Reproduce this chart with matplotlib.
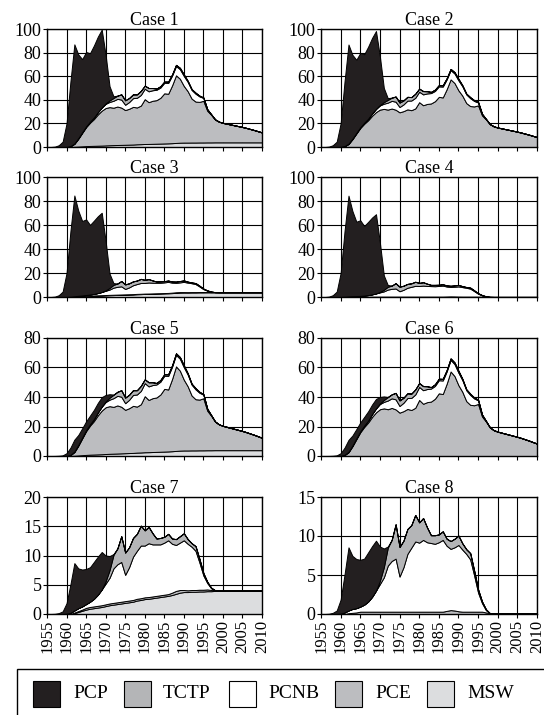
import numpy as np
import matplotlib
matplotlib.use("Agg")
import matplotlib.pyplot as plt
from matplotlib.patches import Rectangle

plt.rcParams["font.family"] = ["Liberation Serif", "DejaVu Serif"]

years = np.arange(1955, 2011)

# MSW contribution (used in odd-numbered cases)
msw = [0, 0, 0, 0, 0,
       0, 0, 0.15, 0.35, 0.55, 0.75, 0.9, 1.0, 1.1, 1.2,
       1.35, 1.5, 1.6, 1.7, 1.8, 1.9, 2.0, 2.1, 2.3, 2.4,
       2.55, 2.6, 2.7, 2.8, 2.9, 3.0, 3.1, 3.25, 3.45, 3.65,
       3.75, 3.75, 3.8, 3.8, 3.85, 3.85, 3.9, 3.9, 3.95, 3.95,
       3.95, 3.95, 3.95, 3.95, 3.95, 3.95, 3.95, 3.95, 3.95, 3.95,
       3.95]
no_msw = np.zeros(len(years))

# PCE, high scenario (cases 1, 2, 5, 6)
pce_high = [0, 0, 0, 0, 0,
            0.05, 0.6, 2.5, 6.6, 11.4, 16.1, 19.7, 22.7, 26.5, 29.6,
            31.7, 32.3, 31.7, 32.6, 31.6, 29.4, 30.4, 31.9, 31.2, 32.7,
            38.0, 35.4, 36.5, 36.9, 38.8, 42.5, 42.0, 49.0, 57.3, 54.2,
            48.0, 43.5, 37.2, 34.7, 34.4, 35.3, 26.8, 23.4, 19.4, 17.5,
            16.5, 15.8, 15.1, 14.4, 13.7, 13.0, 12.2, 11.3, 10.4, 9.4,
            8.4]

# PCE, low scenario (cases 3, 4, 7, 8)
pce_low = [0, 0, 0, 0, 0,
           0, 0, 0.1, 0.15, 0.2, 0.3, 0.3, 0.3, 0.3, 0.3,
           0.3, 0.3, 0.3, 0.3, 0.3, 0.3, 0.3, 0.3, 0.3, 0.3,
           0.3, 0.3, 0.3, 0.3, 0.3, 0.3, 0.3, 0.4, 0.5, 0.45,
           0.35, 0.3, 0.3, 0.3, 0.3, 0.3, 0.3, 0.2, 0.1, 0.05,
           0.05, 0.05, 0.05, 0.05, 0.05, 0.05, 0.05, 0.05, 0.05, 0.05,
           0.05]

pcnb = [0, 0, 0, 0, 0,
        0.05, 0.2, 0.35, 0.5, 0.55, 0.65, 0.9, 1.3, 1.9, 2.7,
        3.55, 4.4, 5.9, 6.5, 6.8, 4.5, 5.7, 7.4, 8.2, 9.0,
        8.85, 9.2, 8.9, 8.8, 8.7, 8.9, 9.2, 8.35, 7.85, 8.1,
        8.5, 7.95, 7.4, 6.7, 4.65, 2.45, 1.1, 0.3, 0, 0,
        0, 0, 0, 0, 0, 0, 0, 0, 0, 0,
        0]

tctp = [0, 0, 0, 0, 0,
        0, 0, 0, 0, 0, 0, 0, 0, 0, 0,
        0.4, 1.3, 2.3, 2.7, 4.4, 3.8, 3.4, 3.2, 2.9, 3.4,
        2.6, 2.8, 1.9, 1.0, 1.1, 1.0, 1.1, 0.9, 1.0, 1.1,
        1.2, 0.8, 0.6, 0.8, 0.6, 0.4, 0.2, 0.1, 0, 0,
        0, 0, 0, 0, 0, 0, 0, 0, 0, 0,
        0]

# PCP, high use (cases 1-4) and low use (cases 5-8)
pcp_high = [0, 0, 0.3, 1.5, 4.5,
            20, 55, 84, 71, 62, 63, 58, 61, 64, 66,
            41, 12, 1.5, 0, 0, 0, 0, 0, 0, 0,
            0, 0, 0, 0, 0, 0, 0, 0, 0, 0,
            0, 0, 0, 0, 0, 0, 0, 0, 0, 0,
            0, 0, 0, 0, 0, 0, 0, 0, 0, 0,
            0]
pcp_low = [0, 0, 0.03, 0.15, 0.45,
           1.8, 4.9, 8.1, 6.8, 6.3, 6.0, 5.9, 6.3, 6.5, 6.4,
           4.4, 2.4, 0.15, 0, 0, 0, 0, 0, 0, 0,
           0, 0, 0, 0, 0, 0, 0, 0, 0, 0,
           0, 0, 0, 0, 0, 0, 0, 0, 0, 0,
           0, 0, 0, 0, 0, 0, 0, 0, 0, 0,
           0]

case_titles = ["Case 1", "Case 2", "Case 3", "Case 4",
               "Case 5", "Case 6", "Case 7", "Case 8"]
case_msw = [msw, no_msw, msw, no_msw, msw, no_msw, msw, no_msw]
case_pce = [pce_high, pce_high, pce_low, pce_low,
            pce_high, pce_high, pce_low, pce_low]
case_pcp = [pcp_high, pcp_high, pcp_high, pcp_high,
            pcp_low, pcp_low, pcp_low, pcp_low]
case_ymax = [100, 100, 100, 100, 80, 80, 20, 15]
case_ystep = [20, 20, 20, 20, 20, 20, 5, 5]

legend_names = ["PCP", "TCTP", "PCNB", "PCE", "MSW"]
legend_colors = ["#231f20", "#b4b5b7", "#ffffff", "#bcbdc0", "#dcdddf"]
# stacking order, bottom to top: MSW, PCE, PCNB, TCTP, PCP
stack_colors = legend_colors[::-1]

W, H = 544, 715
fig = plt.figure(figsize=(W / 100, H / 100), dpi=100)

col_x = [(47, 262), (321, 537)]
row_y = [(29, 147), (177, 297), (338, 456), (497, 614)]

for i in range(8):
    r, c = divmod(i, 2)
    x0, x1 = col_x[c]
    y0, y1 = row_y[r]
    ax = fig.add_axes([x0 / W, 1 - y1 / H, (x1 - x0) / W, (y1 - y0) / H])
    ax.stackplot(years, case_msw[i], case_pce[i], pcnb, tctp, case_pcp[i],
                 colors=stack_colors, edgecolor="black", linewidth=0.7)
    ax.set_xlim(1955, 2010)
    ax.set_ylim(0, case_ymax[i])
    ax.set_xticks(range(1955, 2011, 5))
    ax.set_yticks(range(0, case_ymax[i] + 1, case_ystep[i]))
    ax.set_axisbelow(True)
    ax.grid(True, color="black", linewidth=0.8)
    for sp in ax.spines.values():
        sp.set_linewidth(1.0)
    ax.tick_params(direction="out", length=3, width=0.8, labelsize=13, pad=1)
    if r == 3:
        ax.set_xticklabels([str(y) for y in range(1955, 2011, 5)],
                           rotation=90, fontsize=12)
    else:
        ax.set_xticklabels([])
    ax.set_title(case_titles[i], fontsize=13, pad=3)

# legend box along the bottom
fig.add_artist(Rectangle((17 / W, 1 - 725 / H), 560 / W, 56 / H,
                         transform=fig.transFigure, facecolor="white",
                         edgecolor="black", linewidth=1.0))
patch_x = [33, 124, 229, 335, 427]
text_x = [73, 163, 268, 375, 467]
for name, color, px, tx in zip(legend_names, legend_colors, patch_x, text_x):
    fig.add_artist(Rectangle((px / W, 1 - 707 / H), 27 / W, 26 / H,
                             transform=fig.transFigure, facecolor=color,
                             edgecolor="black", linewidth=0.8))
    fig.text(tx / W, 1 - 694 / H, name, fontsize=14, va="center", ha="left")

fig.savefig("out.png", dpi=100)
